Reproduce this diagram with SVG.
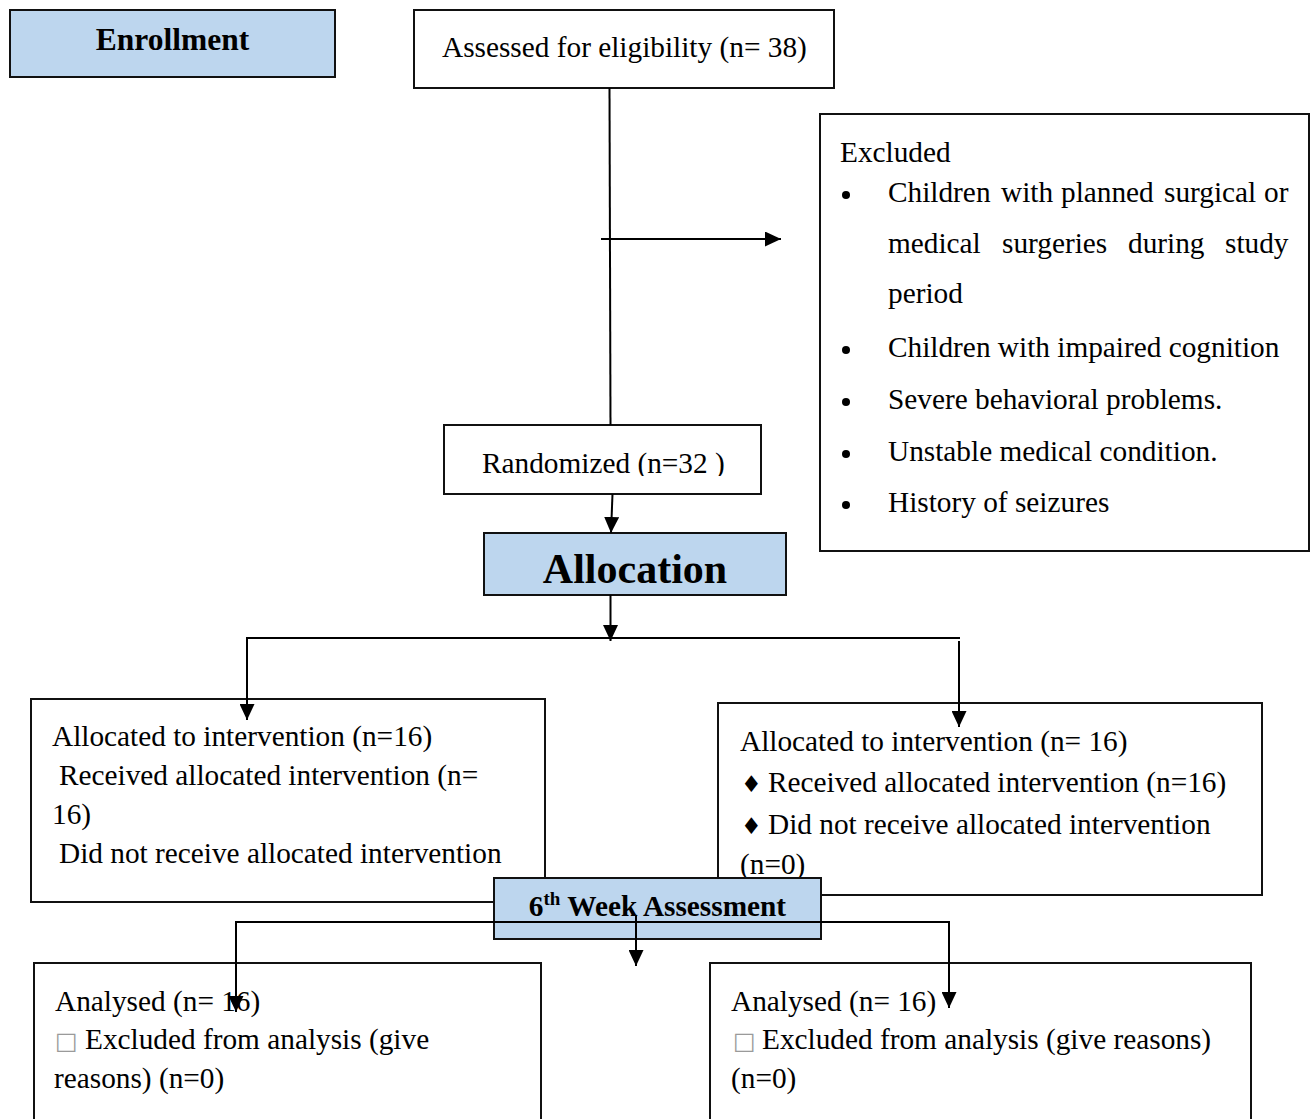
<svg xmlns="http://www.w3.org/2000/svg" width="1315" height="1119" viewBox="0 0 1315 1119">
<style>
  .box { fill: #ffffff; stroke: #111111; stroke-width: 2; }
  .blue { fill: #BDD6EE; stroke: #111111; stroke-width: 2; }
  .t { font-family: "Liberation Serif", "Times New Roman", serif; font-size: 29.3px; fill: #000000; }
  .hb { font-family: "Liberation Serif", "Times New Roman", serif; font-weight: bold; fill: #000000; }
  .sq { font-family: "DejaVu Sans", sans-serif; font-size: 24px; fill: #9a9a9a; }
  .dia { font-family: "DejaVu Sans", sans-serif; font-size: 23px; fill: #000000; }
  .conn line { stroke: #000000; stroke-width: 2; fill: none; }
  .conn .arr { marker-end: url(#ah); }
</style>
<defs>
  <marker id="ah" markerWidth="16" markerHeight="15" refX="16" refY="7.5" orient="auto" markerUnits="userSpaceOnUse">
    <path d="M0,0 L16,7.5 L0,15 z" fill="#000000"/>
  </marker>
  <clipPath id="rclip"><rect x="444" y="425" width="317" height="51"/></clipPath>
</defs>
<rect x="0" y="0" width="1315" height="1119" fill="#ffffff"/>

<g id="enrollment">
  <rect class="blue" x="10" y="10" width="325" height="67"/>
  <text class="hb" x="172.5" y="50" font-size="31.5" text-anchor="middle">Enrollment</text>
</g>

<g id="assessed">
  <rect class="box" x="414" y="10" width="420" height="78"/>
  <text class="t" x="442" y="57">Assessed for eligibility (n= 38)</text>
</g>

<g id="excluded">
  <rect class="box" x="820" y="114" width="489" height="437"/>
  <text class="t" x="840" y="162">Excluded</text>
  <circle cx="846" cy="195" r="4"/>
  <text class="t" y="202"><tspan x="888">Children</tspan><tspan x="1001">with</tspan><tspan x="1061">planned</tspan><tspan x="1164">surgical</tspan><tspan x="1264">or</tspan></text>
  <text class="t" y="253"><tspan x="888">medical</tspan><tspan x="1002">surgeries</tspan><tspan x="1128">during</tspan><tspan x="1225">study</tspan></text>
  <text class="t" x="888" y="303">period</text>
  <circle cx="846" cy="350" r="4"/>
  <text class="t" x="888" y="357">Children with impaired cognition</text>
  <circle cx="846" cy="402" r="4"/>
  <text class="t" x="888" y="409">Severe behavioral problems.</text>
  <circle cx="846" cy="454" r="4"/>
  <text class="t" x="888" y="461">Unstable medical condition.</text>
  <circle cx="846" cy="505" r="4"/>
  <text class="t" x="888" y="512">History of seizures</text>
</g>

<g id="randomized">
  <rect class="box" x="444" y="425" width="317" height="69"/>
  <text class="t" x="482" y="473" clip-path="url(#rclip)">Randomized (n=32 )</text>
</g>

<g id="allocation">
  <rect class="blue" x="484" y="533" width="302" height="62"/>
  <text class="hb" x="635" y="583" font-size="42" text-anchor="middle">Allocation</text>
</g>

<g id="alloc-left">
  <rect class="box" x="31" y="699" width="514" height="203"/>
  <text class="t" x="52" y="746">Allocated to intervention (n=16)</text>
  <text class="t" x="59" y="785">Received allocated intervention (n=</text>
  <text class="t" x="52" y="824">16)</text>
  <text class="t" x="59" y="863">Did not receive allocated intervention</text>
</g>

<g id="alloc-right">
  <rect class="box" x="718" y="703" width="544" height="192"/>
  <text class="t" x="740" y="751">Allocated to intervention (n= 16)</text>
  <text y="792"><tspan class="dia" x="741">♦</tspan><tspan class="t" x="768">Received allocated intervention (n=16)</tspan></text>
  <text y="834"><tspan class="dia" x="741">♦</tspan><tspan class="t" x="768">Did not receive allocated intervention</tspan></text>
  <text class="t" x="740" y="874">(n=0)</text>
</g>

<g id="week6">
  <rect class="blue" x="494" y="878" width="327" height="61"/>
  <text class="hb" x="657.5" y="916" font-size="29.3" text-anchor="middle">6<tspan font-size="19" dy="-11">th</tspan><tspan dy="11"> Week Assessment</tspan></text>
</g>

<g id="analysed-left">
  <rect class="box" x="34" y="963" width="507" height="170"/>
  <text class="t" x="55" y="1011">Analysed (n= 16)</text>
  <text class="sq" x="55" y="1049">□</text>
  <text class="t" x="85" y="1049">Excluded from analysis (give</text>
  <text class="t" x="54" y="1088">reasons) (n=0)</text>
</g>

<g id="analysed-right">
  <rect class="box" x="710" y="963" width="541" height="170"/>
  <text class="t" x="731" y="1011">Analysed (n= 16)</text>
  <text class="sq" x="733" y="1049">□</text>
  <text class="t" x="762" y="1049">Excluded from analysis (give reasons)</text>
  <text class="t" x="731" y="1088">(n=0)</text>
</g>

<g id="connectors" class="conn">
  <line x1="609.5" y1="88" x2="610.5" y2="425"/>
  <line class="arr" x1="601" y1="239" x2="781" y2="239"/>
  <line class="arr" x1="612.5" y1="494" x2="611" y2="533"/>
  <line class="arr" x1="610.5" y1="595" x2="610.5" y2="641"/>
  <line x1="246" y1="638" x2="960" y2="638"/>
  <line class="arr" x1="247" y1="637" x2="247" y2="720"/>
  <line class="arr" x1="959" y1="641" x2="959" y2="727"/>
  <line x1="235" y1="922" x2="949" y2="922"/>
  <line class="arr" x1="636" y1="915" x2="636" y2="966"/>
  <line class="arr" x1="236" y1="921" x2="236" y2="1012"/>
  <line class="arr" x1="949" y1="921" x2="949" y2="1008"/>
</g>
</svg>
